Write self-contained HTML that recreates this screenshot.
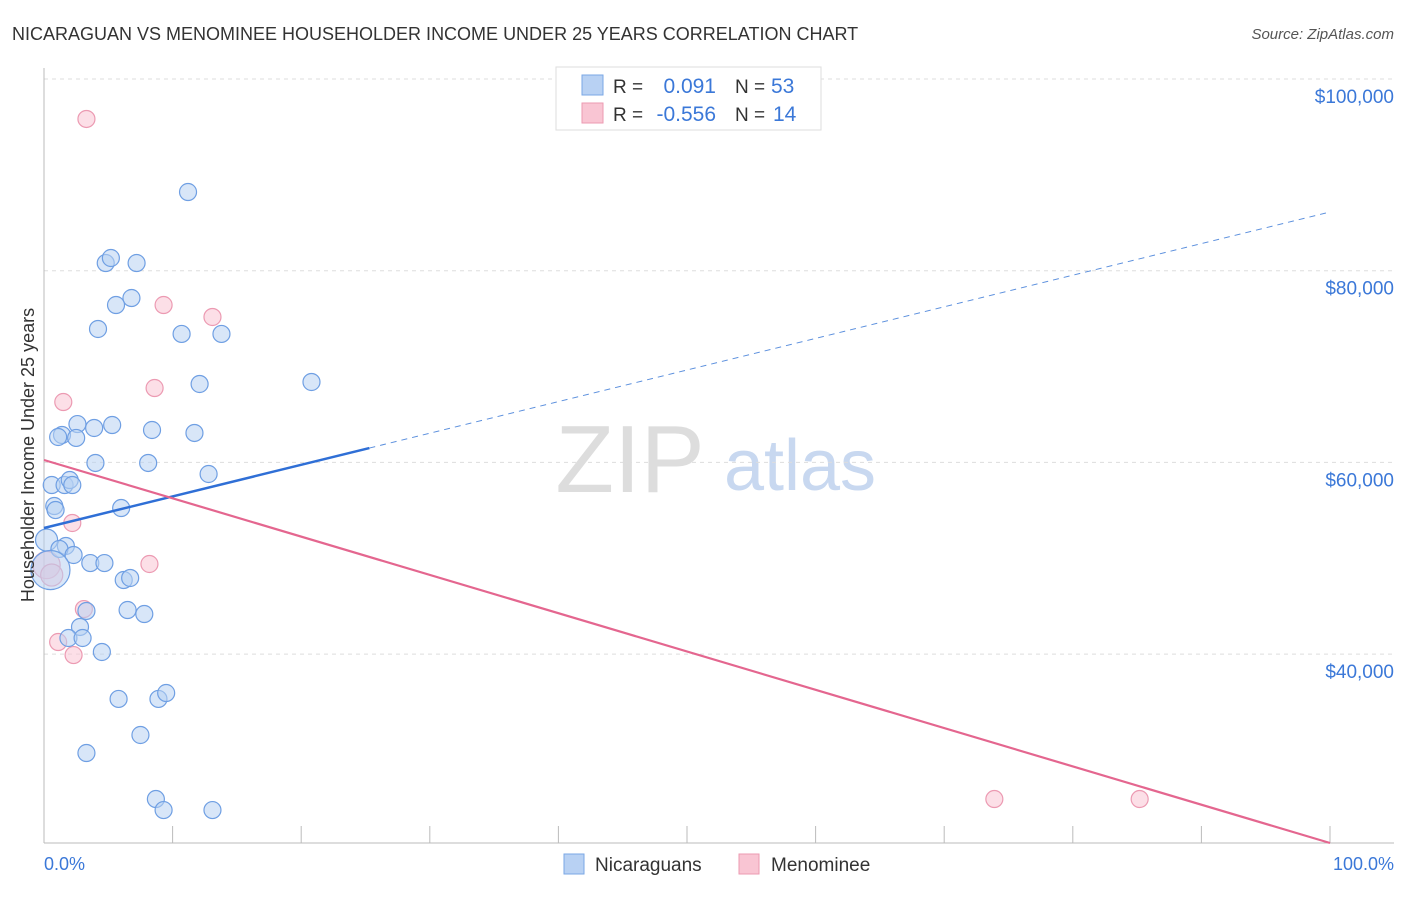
<!DOCTYPE html>
<html><head><meta charset="utf-8">
<style>
body{margin:0;background:#fff;font-family:"Liberation Sans",sans-serif;}
svg text{font-family:"Liberation Sans",sans-serif;}
</style></head>
<body>
<svg id="chart" width="1406" height="892" xmlns="http://www.w3.org/2000/svg">
<text x="12" y="40" font-size="18" fill="#333">NICARAGUAN VS MENOMINEE HOUSEHOLDER INCOME UNDER 25 YEARS CORRELATION CHART</text>
<text x="1394" y="39" font-size="15" fill="#555" text-anchor="end" font-style="italic">Source: ZipAtlas.com</text>
<text x="630" y="492" font-size="96" fill="#ddd" font-family="Liberation Serif" text-anchor="middle">ZIP</text>
<text x="800" y="490" font-size="72" fill="#c8d8f0" text-anchor="middle">atlas</text>
<g id="grid"></g>
<g id="axes"></g>
<g id="marks"></g>
<text transform="translate(34,455) rotate(-90)" font-size="18" fill="#333" text-anchor="middle">Householder Income Under 25 years</text>
<text x="44" y="870" font-size="18" fill="#3b78d8">0.0%</text>
<text x="1394" y="870" font-size="18" fill="#3b78d8" text-anchor="end">100.0%</text>
<g>
<rect x="556" y="67" width="265" height="63" fill="#fff" stroke="#ddd"/>
<rect x="582" y="75" width="21" height="20" fill="#b8d1f3" stroke="#7aa7e6"/>
<rect x="582" y="103" width="21" height="20" fill="#f9c5d3" stroke="#ec9ab2"/>
<text x="613" y="93" font-size="19" fill="#333">R =</text>
<text x="716" y="93" font-size="21" fill="#3b78d8" text-anchor="end">0.091</text>
<text x="735" y="93" font-size="19" fill="#333">N =</text>
<text x="771" y="93" font-size="21" fill="#3b78d8">53</text>
<text x="613" y="121" font-size="19" fill="#333">R =</text>
<text x="716" y="121" font-size="21" fill="#3b78d8" text-anchor="end">-0.556</text>
<text x="735" y="121" font-size="19" fill="#333">N =</text>
<text x="773" y="121" font-size="21" fill="#3b78d8">14</text>
</g>
<g>
<rect x="564" y="854" width="20" height="20" fill="#b8d1f3" stroke="#7aa7e6"/>
<text x="595" y="871" font-size="19" fill="#333">Nicaraguans</text>
<rect x="739" y="854" width="20" height="20" fill="#f9c5d3" stroke="#ec9ab2"/>
<text x="771" y="871" font-size="19" fill="#333">Menominee</text>
</g>
</svg>
<script>
const yTicks=[40000,60000,80000,100000];
const yTickLabels=["$40,000","$60,000","$80,000","$100,000"];
const xTicks=[0,10,20,30,40,50,60,70,80,90,100];
const blueX=[11.2,4.8,5.2,7.2,6.8,5.6,4.2,10.7,13.8,12.1,20.8,2.6,1.4,1.1,2.5,3.9,5.3,8.4,11.7,4.0,8.1,12.8,0.6,1.6,2.0,2.2,0.8,0.9,6.0,0.2,1.7,1.2,2.3,3.6,4.7,6.2,6.7,0.5,3.3,6.5,7.8,2.8,1.9,3.0,4.5,5.8,8.9,9.5,7.5,3.3,8.7,9.3,13.1];
const blueY=[88210,80800,81325,80800,77150,76420,73920,73400,73400,68180,68390,64000,62860,62650,62550,63590,63900,63380,63070,59940,59940,58790,57640,57640,58160,57640,55450,55030,55240,51900,51280,50970,50340,49500,49500,47730,47940,48770,44500,44600,44180,42830,41680,41680,40220,35320,35320,35940,31560,29680,24880,23730,23730];
const blueSize=[1,1,1,1,1,1,1,1,1,1,1,1,1,1,1,1,1,1,1,1,1,1,1,1,1,1,1,1,1,1.3,1,1,1,1,1,1,1,2.3,1,1,1,1,1,1,1,1,1,1,1,1,1,1,1];
const pinkX=[3.3,9.3,13.1,8.6,1.5,2.2,8.2,0.2,0.6,3.1,1.1,2.3,73.9,85.2];
const pinkY=[95830,76420,75170,67760,66300,53680,49400,49290,48250,44700,41260,39900,24880,24880];
const pinkSize=[1,1,1,1,1,1,1,1.6,1.3,1,1,1,1,1];
const blueLine=[53156,86124];
const pinkLine=[60250,20292];
const blueSolidEnd=25.3;

const X=p=>44+p*12.86;
const Y=v=>79+(100000-v)*0.009585;
const NS="http://www.w3.org/2000/svg";
function mk(tag,attrs,parent){const e=document.createElementNS(NS,tag);for(const k in attrs)e.setAttribute(k,attrs[k]);parent.appendChild(e);return e;}
const grid=document.getElementById('grid'),axes=document.getElementById('axes'),marks=document.getElementById('marks');
yTicks.forEach((v,i)=>{
  const l=mk('line',{x1:44,x2:1394,y1:Y(v),y2:Y(v),stroke:'#ddd','stroke-dasharray':'4,4'},grid);
  
  
  const t=mk('text',{x:1394,y:Y(v)+24,'font-size':19,fill:'#3b78d8','text-anchor':'end'},axes);
  t.textContent=yTickLabels[i];
  
  
});
const ax=mk('line',{x1:44,x2:44,y1:68,y2:843,stroke:'#bbb'},axes);


const bx=mk('line',{x1:44,x2:1394,y1:843,y2:843,stroke:'#bbb'},axes);


xTicks.forEach(p=>{
  const t=mk('line',{x1:X(p),x2:X(p),y1:826,y2:843,stroke:'#bbb'},axes);
  
  
});
function dots(xs,ys,sz,fill,stroke,name){
  xs.forEach((x,i)=>{
    const c=mk('circle',{cx:X(x),cy:Y(ys[i]),r:8.5*sz[i],fill:fill,'fill-opacity':0.55,stroke:stroke,'stroke-width':1.2},marks);
    
    
  });
}
dots(pinkX,pinkY,pinkSize,'#f9c5d3','#ec9ab2','menominee-point');
dots(blueX,blueY,blueSize,'#b8d1f3','#6f9fe3','nicaraguan-point');
const bAt=p=>blueLine[0]+(blueLine[1]-blueLine[0])*p/100;
const bs=mk('line',{x1:X(0),y1:Y(blueLine[0]),x2:X(blueSolidEnd),y2:Y(bAt(blueSolidEnd)),stroke:'#2f6fd6','stroke-width':2.5},marks);


const bd=mk('line',{x1:X(blueSolidEnd),y1:Y(bAt(blueSolidEnd)),x2:X(100),y2:Y(blueLine[1]),stroke:'#5b8fdd','stroke-width':1,'stroke-dasharray':'6,5'},marks);


const pl=mk('line',{x1:X(0),y1:Y(pinkLine[0]),x2:X(100),y2:Y(pinkLine[1]),stroke:'#e4668f','stroke-width':2.2},marks);


</script>
</body></html>
